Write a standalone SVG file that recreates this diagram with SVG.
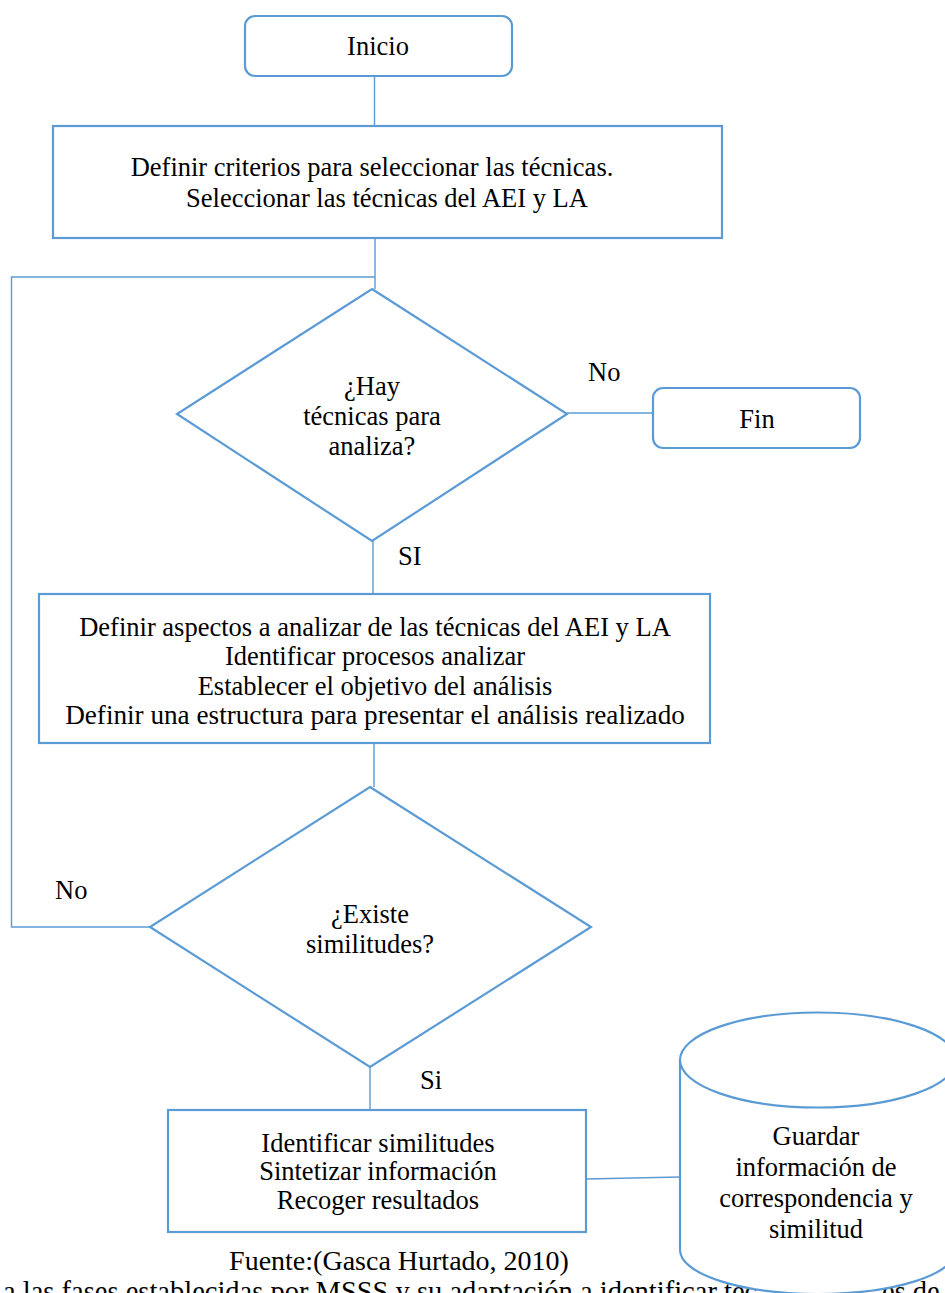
<svg xmlns="http://www.w3.org/2000/svg" width="945" height="1293" viewBox="0 0 945 1293">
  <style>
    .shape { fill: #ffffff; stroke: #5B9BD5; stroke-width: 2.2; }
    .wire { fill: none; stroke: #5B9BD5; stroke-width: 1.4; }
    text { font-family: "Liberation Serif", "DejaVu Serif", serif; font-size: 26.5px; fill: #000000; }
    .mid { text-anchor: middle; }
  </style>
  <rect width="945" height="1293" fill="#ffffff"/>

  <!-- caption lines under the flow -->
  <g id="caption">
    <text class="mid" x="399" y="1270" style="font-size:28px">Fuente:(Gasca Hurtado, 2010)</text>
    <text x="3" y="1301" style="font-size:28.5px">a las fases establecidas por MSSS y su adaptación a identificar téc</text>
    <text x="882" y="1301" style="font-size:28.5px">es de</text>
  </g>

  <!-- connectors -->
  <g id="connectors">
    <path class="wire" d="M374.5 76 V126"/>
    <path class="wire" d="M375 238 V289"/>
    <path class="wire" d="M375 277 H11.5 V927 H150"/>
    <path class="wire" d="M567 413 H653"/>
    <path class="wire" d="M373 541 V594"/>
    <path class="wire" d="M374 743 V787"/>
    <path class="wire" d="M370 1067 V1111"/>
    <path class="wire" d="M586 1179 L680 1177"/>
  </g>

  <g id="inicio">
    <rect class="shape" x="245" y="16" width="267" height="60" rx="10"/>
    <text class="mid" x="378" y="55">Inicio</text>
  </g>

  <g id="criterios">
    <rect class="shape" x="53" y="126" width="669" height="112"/>
    <text class="mid" x="372" y="176">Definir criterios para seleccionar las técnicas.</text>
    <text class="mid" x="387" y="207">Seleccionar las técnicas del AEI y LA</text>
  </g>

  <g id="hay-tecnicas">
    <polygon class="shape" points="372,289 567,414 372,541 177,414"/>
    <text class="mid" x="372" y="395">¿Hay</text>
    <text class="mid" x="372" y="425">técnicas para</text>
    <text class="mid" x="372" y="455">analiza?</text>
  </g>

  <g id="label-no-1">
    <text x="588" y="381">No</text>
  </g>

  <g id="fin">
    <rect class="shape" x="653" y="388" width="207" height="60" rx="10"/>
    <text class="mid" x="757" y="428">Fin</text>
  </g>

  <g id="label-si-1">
    <text x="398" y="565">SI</text>
  </g>

  <g id="aspectos">
    <rect class="shape" x="39" y="594" width="671" height="149"/>
    <text class="mid" x="375" y="636">Definir aspectos a analizar de las técnicas del AEI y LA</text>
    <text class="mid" x="375" y="665">Identificar procesos analizar</text>
    <text class="mid" x="375" y="695">Establecer el objetivo del análisis</text>
    <text class="mid" x="375" y="724" style="font-size:27.2px">Definir una estructura para presentar el análisis realizado</text>
  </g>

  <g id="existe-similitudes">
    <polygon class="shape" points="370,787 591,927 370,1067 150,927"/>
    <text class="mid" x="370" y="923">¿Existe</text>
    <text class="mid" x="370" y="953">similitudes?</text>
  </g>

  <g id="label-no-2">
    <text x="55" y="899">No</text>
  </g>

  <g id="label-si-2">
    <text x="420" y="1089">Si</text>
  </g>

  <g id="identificar">
    <rect class="shape" x="168" y="1110" width="418" height="122"/>
    <text class="mid" x="378" y="1152">Identificar similitudes</text>
    <text class="mid" x="378" y="1180">Sintetizar información</text>
    <text class="mid" x="378" y="1209">Recoger resultados</text>
  </g>

  <g id="guardar">
    <path class="shape" d="M680 1060 V1250 A138 44 0 0 0 956 1250 V1060 Z"/>
    <ellipse class="shape" cx="818" cy="1060" rx="138" ry="47.5"/>
    <text class="mid" x="816" y="1145">Guardar</text>
    <text class="mid" x="816" y="1176">información de</text>
    <text class="mid" x="816" y="1207">correspondencia y</text>
    <text class="mid" x="816" y="1238">similitud</text>
  </g>
</svg>
